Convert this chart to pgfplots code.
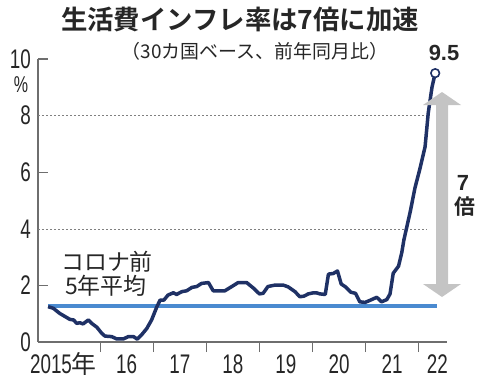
\documentclass[border=0pt]{standalone}
\usepackage{fontspec}
\usepackage{pgfplots}
\usepackage{pgfplotstable}
\pgfplotsset{compat=1.18}
\setmainfont{Liberation Sans}
\newfontfamily\cond{Liberation Sans}[FakeStretch=0.7]
\newfontfamily\jp{Noto Sans CJK JP}[BoldFont=Noto Sans CJK JP Bold]
\definecolor{navy}{RGB}{31,49,101}
\definecolor{avgblue}{RGB}{74,138,208}
\definecolor{arrowgray}{RGB}{196,196,196}
\definecolor{axgray}{RGB}{110,110,110}

\pgfplotstableread{
t v
2015.02 1.25
2015.12 1.19
2015.24 1.01
2015.34 0.90
2015.43 0.80
2015.50 0.78
2015.56 0.66
2015.62 0.68
2015.68 0.64
2015.78 0.78
2015.84 0.66
2015.94 0.52
2016.03 0.31
2016.09 0.21
2016.22 0.19
2016.31 0.11
2016.44 0.11
2016.53 0.19
2016.63 0.19
2016.70 0.10
2016.78 0.25
2016.88 0.48
2016.97 0.78
2017.07 1.25
2017.13 1.48
2017.20 1.48
2017.28 1.66
2017.38 1.74
2017.44 1.68
2017.54 1.78
2017.63 1.81
2017.73 1.93
2017.82 1.96
2017.91 2.07
2018.04 2.10
2018.13 1.81
2018.35 1.81
2018.48 1.96
2018.60 2.10
2018.76 2.10
2018.89 1.90
2019.00 1.70
2019.07 1.72
2019.16 1.96
2019.29 2.01
2019.45 2.01
2019.54 1.95
2019.67 1.78
2019.76 1.60
2019.84 1.62
2019.92 1.70
2020.02 1.74
2020.07 1.74
2020.14 1.70
2020.24 1.68
2020.30 2.40
2020.39 2.42
2020.47 2.51
2020.54 2.05
2020.62 1.95
2020.72 1.76
2020.81 1.72
2020.89 1.42
2020.99 1.40
2021.08 1.47
2021.21 1.58
2021.30 1.42
2021.40 1.50
2021.46 1.70
2021.52 2.43
2021.62 2.68
2021.68 3.15
2021.72 3.60
2021.84 4.60
2021.93 5.45
2022.02 6.10
2022.12 6.90
2022.18 8.10
2022.25 9.00
2022.31 9.50
}\cpi

\begin{document}
\begin{tikzpicture}[x=1bp,y=1bp]
\begin{axis}[
  scale only axis, width=409bp, height=283bp,
  at={(0,0)}, anchor=south west,
  xmin=2014.8305, xmax=2022.5329, ymin=0, ymax=10,
  axis x line*=bottom, axis y line*=left,
  axis line style={axgray, line width=1.1bp, -},
  clip=false,
  major tick length=10bp,
  tick align=inside,
  tick style={axgray, line width=1.1bp},
  xtick={2015.31,2016.5,2017.5,2018.5,2019.5,2020.5,2021.5,2022.35},
  xticklabels={{2015{\jp\fontsize{25}{25}\selectfont 年}},16,17,18,19,20,21,22},
  x tick style={draw=none},
  extra x ticks={2016,2017,2018,2019,2020,2021,2022},
  extra x tick labels={},
  extra x tick style={tick align=outside, x tick style={draw=axgray, line width=1.1bp}},
  ytick={2,6,10},
  extra y ticks={0,4,8},
  extra y tick style={y tick style={draw=none}},
  ticklabel style={font=\cond\fontsize{27}{27}\selectfont, text=black!85, inner sep=1bp},
  /pgf/number format/assume math mode=true,
  xticklabel style={anchor=base, yshift=-31bp},
  yticklabel style={anchor=east, xshift=-6bp},
]
\draw[gray, line width=0.6bp, dash pattern=on 2bp off 2bp] (axis cs:2014.8305,8) -- (axis cs:2022.156,8);
\draw[gray, line width=0.6bp, dash pattern=on 2bp off 2bp] (axis cs:2014.8305,4) -- (axis cs:2022.156,4);
\addplot[avgblue, line width=4bp, no marks] coordinates {(2015.02,1.27) (2022.345,1.27)};
\addplot[navy, line width=3.5bp, no marks, line join=round] table[x=t,y=v] {\cpi};
\addplot[only marks, mark=*, mark size=4.3bp, mark options={fill=white, draw=navy, line width=1.6bp}] coordinates {(2022.31,9.5)};
\end{axis}
% double arrow
\fill[arrowgray] (404,250) -- (423,237) -- (410,237) -- (410,58) -- (423,58) -- (404,45) -- (385,58) -- (398,58) -- (398,237) -- (385,237) -- cycle;
% texts
\node[font=\jp\bfseries\fontsize{26.5}{26.5}\selectfont, text=black!85] at (202,322) {生活費インフレ率は7倍に加速};
\node[font=\jp\fontsize{19}{19}\selectfont, text=black!85] at (217,291) {（30カ国ベース、前年同月比）};
\node[font=\cond\fontsize{23}{23}\selectfont, text=black!85, inner sep=1bp] at (-17,257) {\%};
\node[font=\bfseries\fontsize{22}{22}\selectfont, text=black!85] at (406,289) {9.5};
\node[font=\bfseries\fontsize{22}{22}\selectfont, text=black!85] at (425,159) {7};
\node[font=\jp\bfseries\fontsize{21}{21}\selectfont, text=black!85] at (427,135) {倍};
\node[font=\jp\fontsize{23}{23}\selectfont, text=black!85] at (69,80) {コロナ前};
\node[font=\jp\fontsize{23}{23}\selectfont, text=black!85] at (68,56) {5年平均};
\path[use as bounding box] (-38,-39) rectangle (442,342);
\end{tikzpicture}
\end{document}
